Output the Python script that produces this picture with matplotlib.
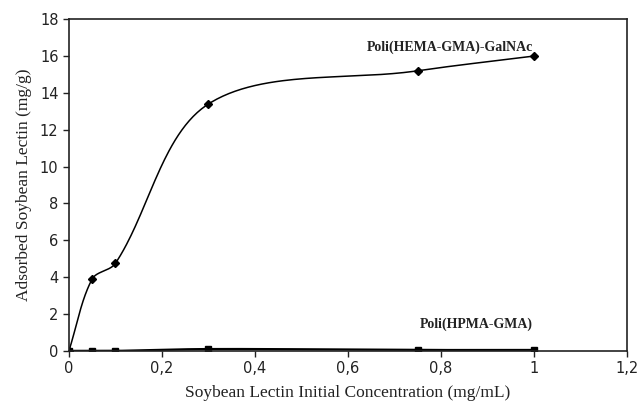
import numpy as np
import matplotlib
matplotlib.use("Agg")
import matplotlib.pyplot as plt

conc = [0, 0.05, 0.1, 0.3, 0.75, 1.0]
galnac = [0, 3.9, 4.75, 13.4, 15.2, 16.0]
hpma = [0, 0.0, 0.0, 0.1, 0.05, 0.05]
xticks = [0, 0.2, 0.4, 0.6, 0.8, 1.0, 1.2]
xticklabels = ["0", "0,2", "0,4", "0,6", "0,8", "1", "1,2"]
yticks = list(range(0, 19, 2))


def smooth(x, y, sx=465.0, sy=18.44, n=60, t=1.0 / 3.0):
    # Excel-like Bezier smoothing in (approximate) screen space,
    # control lengths scaled by neighbouring segment lengths
    x = np.asarray(x, float) * sx
    y = np.asarray(y, float) * sy
    P = np.column_stack([x, y])
    N = len(P)
    d = np.hypot(np.diff(P[:, 0]), np.diff(P[:, 1]))
    out = []
    for i in range(N - 1):
        p1 = P[i]; p2 = P[i + 1]
        if i > 0:
            c1 = p1 + t * (p2 - P[i - 1]) * d[i] / (d[i - 1] + d[i])
        else:
            c1 = p1 + (p2 - p1) / 3.0
        if i + 2 < N:
            c2 = p2 - t * (P[i + 2] - p1) * d[i] / (d[i] + d[i + 1])
        else:
            c2 = p2 - (p2 - p1) / 3.0
        tt = np.linspace(0, 1, n)[:, None]
        seg = ((1 - tt) ** 3) * p1 + 3 * ((1 - tt) ** 2) * tt * c1 \
            + 3 * (1 - tt) * tt ** 2 * c2 + tt ** 3 * p2
        out.append(seg)
    s = np.vstack(out)
    return s[:, 0] / sx, s[:, 1] / sy


fig = plt.figure(figsize=(6.38, 4.08), dpi=100)
ax = fig.add_axes([0.108, 0.14, 0.875, 0.813])

sx_, sy_ = smooth(conc, galnac)
ax.plot(sx_, sy_, color="black", lw=1.1)
ax.plot(conc, galnac, linestyle="none", marker="D", ms=4.5, color="black")
hx, hy = smooth(conc, hpma)
ax.plot(hx, hy, color="black", lw=1.6)
ax.plot(conc, hpma, linestyle="none", marker="s", ms=5, color="black")

ax.set_xlim(0, 1.2)
ax.set_ylim(0, 18)
ax.set_xticks(xticks)
ax.set_xticklabels(xticklabels)
ax.set_yticks(yticks)
for s in ax.spines.values():
    s.set_color("#222222")
    s.set_linewidth(1.2)
ax.tick_params(direction="out", length=4, width=1, labelsize=10.5, colors="#222222")
for lab in ax.get_xticklabels() + ax.get_yticklabels():
    lab.set_family("DejaVu Sans")

ax.set_xlabel("Soybean Lectin Initial Concentration (mg/mL)", family="Liberation Serif",
              fontsize=12.5, labelpad=6, color="#222222")
ax.set_ylabel("Adsorbed Soybean Lectin (mg/g)", family="Liberation Serif",
              fontsize=12.5, labelpad=6, color="#222222")

ax.text(0.82, 16.45, "Poli(HEMA-GMA)-GalNAc", family="Liberation Serif", fontsize=10,
        fontweight="bold", ha="center", va="center", color="#222222")
ax.text(0.875, 1.45, "Poli(HPMA-GMA)", family="Liberation Serif", fontsize=10,
        fontweight="bold", ha="center", va="center", color="#222222")

fig.savefig("out.png", dpi=100)
